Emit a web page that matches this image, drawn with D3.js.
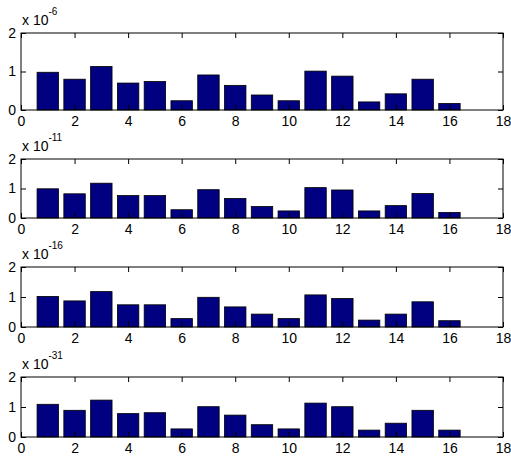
<!DOCTYPE html>
<html>
<head>
<meta charset="utf-8">
<script src="https://cdn.jsdelivr.net/npm/d3@7"></script>
<style>
  body { margin: 0; background: #fff; }
  text { font-family: "Liberation Sans", Arial, sans-serif; }
</style>
</head>
<body>
<script>
// bar positions 1..16, one value row per subplot
var categories = d3.range(1, 17);
var exponents = ["-6", "-11", "-16", "-31"];

var values1 = [0.98, 0.80, 1.13, 0.70, 0.74, 0.24, 0.91, 0.64, 0.39, 0.24, 1.01, 0.88, 0.21, 0.42, 0.80, 0.17];
var values2 = [0.99, 0.82, 1.18, 0.76, 0.76, 0.28, 0.96, 0.66, 0.39, 0.24, 1.03, 0.95, 0.24, 0.42, 0.83, 0.19];
var values3 = [1.02, 0.87, 1.18, 0.74, 0.74, 0.28, 0.99, 0.67, 0.43, 0.28, 1.07, 0.95, 0.23, 0.43, 0.84, 0.21];
var values4 = [1.09, 0.89, 1.23, 0.78, 0.81, 0.27, 1.01, 0.73, 0.41, 0.27, 1.13, 1.01, 0.23, 0.46, 0.89, 0.23];
var series = [values1, values2, values3, values4];

var xTicks = d3.range(0, 19, 2);
var yTicks = [0, 1, 2];

var width = 511,
    height = 456;

// panel rectangles (top, bottom) in pixels
var panels = [
  { top: 33, bottom: 110 },
  { top: 159, bottom: 218 },
  { top: 267, bottom: 327 },
  { top: 377, bottom: 437 }
];
var left = 21, right = 503;

var svg = d3.select("body").append("svg")
    .attr("width", width)
    .attr("height", height);

var x = d3.scaleLinear().domain([0, 18]).range([left, right]);
var barW = (x(0.8) - x(0));

function styleLabels(a) {
  a.select(".domain").remove();
  a.selectAll("text").attr("font-size", 14).attr("fill", "#000")
    .attr("font-family", "Liberation Sans, Arial, sans-serif");
}

panels.forEach(function(p, i) {
  var y = d3.scaleLinear().domain([0, 2]).range([p.bottom, p.top]);
  var g = svg.append("g");

  // bars
  g.selectAll("rect.bar")
    .data(series[i])
    .enter().append("rect")
      .attr("class", "bar")
      .attr("x", function(d, j) { return x(categories[j]) - barW / 2; })
      .attr("y", function(d) { return y(d); })
      .attr("width", barW)
      .attr("height", function(d) { return y(0) - y(d); })
      .attr("fill", "#000080")
      .attr("stroke", "#000")
      .attr("stroke-width", 0.8);

  // bottom axis, ticks pointing in
  g.append("g")
    .attr("transform", "translate(0," + p.bottom + ")")
    .call(d3.axisBottom(x).tickValues(xTicks).tickSizeInner(-5).tickSizeOuter(0).tickPadding(6))
    .call(styleLabels);

  // top axis ticks
  g.append("g")
    .attr("transform", "translate(0," + p.top + ")")
    .call(d3.axisTop(x).tickValues(xTicks).tickSizeInner(-5).tickSizeOuter(0).tickFormat(""))
    .call(function(a) { a.select(".domain").remove(); });

  // left axis
  g.append("g")
    .attr("transform", "translate(" + left + ",0)")
    .call(d3.axisLeft(y).tickValues(yTicks).tickFormat(d3.format("d"))
      .tickSizeInner(-5).tickSizeOuter(0).tickPadding(5))
    .call(styleLabels);

  // right axis ticks
  g.append("g")
    .attr("transform", "translate(" + right + ",0)")
    .call(d3.axisRight(y).tickValues(yTicks).tickSizeInner(-5).tickSizeOuter(0).tickFormat(""))
    .call(function(a) { a.select(".domain").remove(); });

  // box
  g.append("rect")
    .attr("x", left)
    .attr("y", p.top)
    .attr("width", right - left)
    .attr("height", p.bottom - p.top)
    .attr("fill", "none")
    .attr("stroke", "#000")
    .attr("stroke-width", 1);

  // exponent label
  var t = g.append("text")
    .attr("x", left + 1)
    .attr("y", p.top - 8)
    .attr("font-size", 14)
    .attr("fill", "#000");
  t.append("tspan").text("x 10");
  t.append("tspan").attr("dy", -10).attr("font-size", 10).text(exponents[i]);
});
</script>
</body>
</html>
